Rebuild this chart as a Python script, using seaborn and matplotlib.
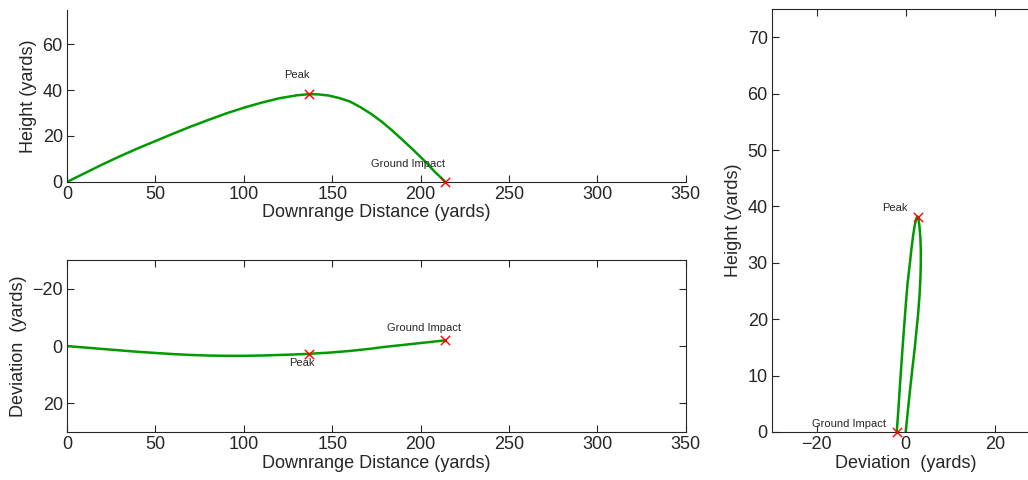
import numpy as np
import matplotlib
matplotlib.use('Agg')
import matplotlib.pyplot as plt
import seaborn as sns

# ball flight samples (yards)
downrange = [0, 10, 20, 30, 40, 50, 60, 70, 80, 90, 100, 110, 120, 130, 137,
             142, 148, 154, 160, 166, 172, 178, 184, 190, 196, 202, 208, 214]
height = [0, 3.8, 7.6, 11.2, 14.6, 17.8, 21.0, 24.1, 27.0, 29.8, 32.3, 34.5, 36.4, 37.7, 38.2,
          38.1, 37.6, 36.5, 35.0, 32.5, 29.6, 26.2, 22.3, 18.1, 13.8, 9.3, 4.4, 0]
deviation = [0, 0.5, 1.0, 1.5, 2.0, 2.4, 2.8, 3.1, 3.3, 3.4, 3.4, 3.3, 3.1, 2.9, 2.7,
             2.5, 2.3, 2.0, 1.7, 1.3, 0.9, 0.4, 0.0, -0.4, -0.8, -1.2, -1.6, -2.0]

sns.set_style('ticks')
plt.rcParams['font.family'] = ['Liberation Sans', 'DejaVu Sans']
plt.rcParams['xtick.direction'] = 'in'
plt.rcParams['ytick.direction'] = 'in'

line_color = '#009a00'
ipk = int(np.argmax(height))
iend = len(height) - 1

fig = plt.figure(figsize=(10.28, 4.8), dpi=100)

# --- height vs downrange ---
ax1 = fig.add_axes([0.0652, 0.621, 0.602, 0.359])
sns.lineplot(x=downrange, y=height, ax=ax1, color=line_color, linewidth=1.8,
             sort=False, estimator=None)
sns.scatterplot(x=[downrange[ipk], downrange[iend]], y=[height[ipk], height[iend]], ax=ax1,
                marker='x', color='red', s=45, linewidth=1, zorder=5, clip_on=False)
ax1.text(downrange[ipk], height[ipk] + 6, 'Peak', ha='right', va='bottom', fontsize=8)
ax1.text(downrange[iend], height[iend] + 5.5, 'Ground Impact', ha='right', va='bottom', fontsize=8)
ax1.set_xlim(0, 350)
ax1.set_ylim(0, 75)
ax1.set_xticks(range(0, 351, 50))
ax1.set_yticks([0, 20, 40, 60])
ax1.spines['top'].set_visible(False)
ax1.spines['right'].set_visible(False)
ax1.set_xlabel('Downrange Distance (yards)', fontsize=13, labelpad=1)
ax1.set_ylabel('Height (yards)', fontsize=13, labelpad=4)

# --- deviation vs downrange ---
ax2 = fig.add_axes([0.0652, 0.1, 0.602, 0.358])
sns.lineplot(x=downrange, y=deviation, ax=ax2, color=line_color, linewidth=1.8,
             sort=False, estimator=None)
sns.scatterplot(x=[downrange[ipk], downrange[iend]], y=[deviation[ipk], deviation[iend]], ax=ax2,
                marker='x', color='red', s=45, linewidth=1, zorder=5)
ax2.text(downrange[ipk] - 4, deviation[ipk] + 1.6, 'Peak', ha='center', va='top', fontsize=8)
ax2.text(downrange[iend] - 12, deviation[iend] - 2.4, 'Ground Impact', ha='center', va='bottom', fontsize=8)
ax2.set_xlim(0, 350)
ax2.set_ylim(30, -30)
ax2.set_xticks(range(0, 351, 50))
ax2.set_yticks([-20, 0, 20])
ax2.tick_params(top=True, right=True)
ax2.set_xlabel('Downrange Distance (yards)', fontsize=13, labelpad=1)
ax2.set_ylabel('Deviation  (yards)', fontsize=13, labelpad=4)

# --- height vs deviation ---
ax3 = fig.add_axes([0.751, 0.1, 0.260, 0.881])
sns.lineplot(x=deviation, y=height, ax=ax3, color=line_color, linewidth=1.8,
             sort=False, estimator=None)
sns.scatterplot(x=[deviation[ipk], deviation[iend]], y=[height[ipk], height[iend]], ax=ax3,
                marker='x', color='red', s=45, linewidth=1, zorder=5, clip_on=False)
ax3.text(deviation[ipk] - 2.2, height[ipk] + 1.0, 'Peak', ha='right', va='baseline', fontsize=8)
ax3.text(deviation[iend] - 2.4, height[iend] + 0.8, 'Ground Impact', ha='right', va='baseline', fontsize=8)
ax3.set_xlim(-30, 30)
ax3.set_ylim(0, 75)
ax3.set_xticks([-20, 0, 20])
ax3.set_yticks(range(0, 71, 10))
ax3.tick_params(top=True, right=True)
ax3.set_xlabel('Deviation  (yards)', fontsize=13, labelpad=1)
ax3.set_ylabel('Height (yards)', fontsize=13, labelpad=4)

for ax in (ax1, ax2, ax3):
    ax.tick_params(labelsize=13, length=5, width=0.8, pad=3)
    for s in ax.spines.values():
        s.set_linewidth(0.8)

fig.savefig('out.png', dpi=100)
